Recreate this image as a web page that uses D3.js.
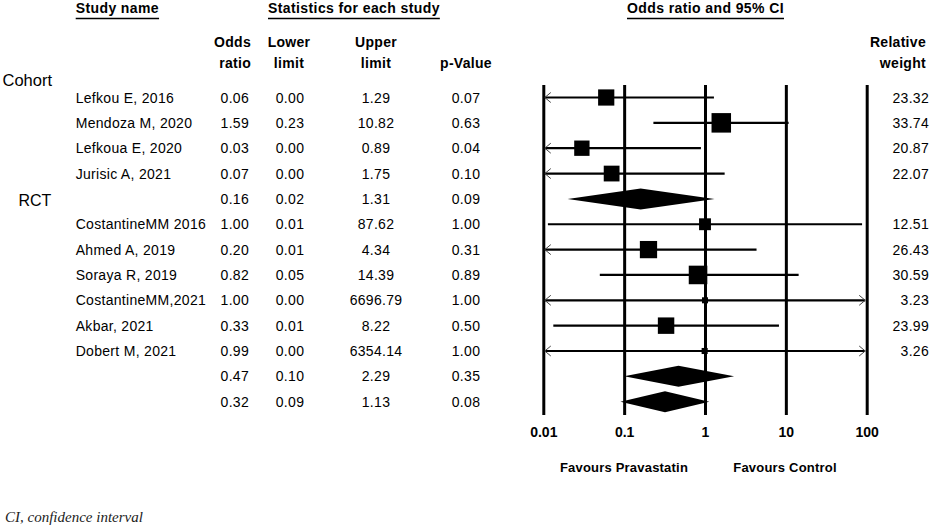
<!DOCTYPE html>
<html>
<head>
<meta charset="utf-8">
<script src="https://cdn.jsdelivr.net/npm/d3@7"></script>
<style>
  body { margin: 0; background: #fff; }
  svg { display: block; font-family: "Liberation Sans", Arial, sans-serif; }
  .bold { font-weight: bold; }
</style>
</head>
<body>
<svg width="941" height="527"></svg>
<script>
// rows of the forest plot, top to bottom ('' = pooled row)
const studies = ['Lefkou E, 2016', 'Mendoza M, 2020', 'Lefkoua E, 2020', 'Jurisic A, 2021', '',
  'CostantineMM 2016', 'Ahmed A, 2019', 'Soraya R, 2019', 'CostantineMM,2021', 'Akbar, 2021', 'Dobert M, 2021', '', ''];
const oddsRatio = [0.06, 1.59, 0.03, 0.07, 0.16, 1.00, 0.20, 0.82, 1.00, 0.33, 0.99, 0.47, 0.32];
const lowerLimit = [0.003, 0.23, 0.001, 0.003, 0.02, 0.0114, 0.0092, 0.05, 0.0001, 0.0133, 0.0002, 0.10, 0.09];
const upperLimit = [1.29, 10.82, 0.89, 1.75, 1.31, 87.62, 4.34, 14.39, 6696.79, 8.22, 6354.14, 2.29, 1.13];
const pValue = [0.07, 0.63, 0.04, 0.10, 0.09, 1.00, 0.31, 0.89, 1.00, 0.50, 1.00, 0.35, 0.08];
const weight = [23.32, 33.74, 20.87, 22.07, null, 12.51, 26.43, 30.59, 3.23, 23.99, 3.26, null, null];
const groupLabels = ['Cohort', 'RCT'];
const axisTicks = [0.01, 0.1, 1, 10, 100];
const favourLabels = ['Favours Pravastatin', 'Favours Control'];
const footnote = 'CI, confidence interval';

const svg = d3.select('svg');

const x = d3.scaleLog().domain([0.01, 100]).range([543.3, 866.7]);
const y = d3.scaleLinear().domain([0, studies.length - 1]).range([97.5, 401.7]);
const box = d3.scaleSqrt().domain([0, 33.74]).range([0, 19.5]);
const fmt = d3.format('.2f');

const rows = studies.map((name, i) => ({
  name, or: oddsRatio[i], lo: lowerLimit[i], hi: upperLimit[i], p: pValue[i], w: weight[i], i
}));

// section headers with underline
const headers = [
  {text: 'Study name', x: 75.7},
  {text: 'Statistics for each study', x: 268},
  {text: 'Odds ratio and 95% CI', x: 627}
];
headers.forEach(h => {
  const t = svg.append('text')
    .attr('class', 'bold')
    .attr('x', h.x)
    .attr('y', 12.5)
    .style('font-size', '14px')
    .style('letter-spacing', '0.4px')
    .text(h.text);
  const bb = t.node().getBBox();
  svg.append('line')
    .attr('x1', bb.x).attr('x2', bb.x + bb.width)
    .attr('y1', 18.5).attr('y2', 18.5)
    .attr('stroke', '#000').attr('stroke-width', 1.5);
});

// column headers
const colHeads = [
  {lines: ['Odds', 'ratio'], x: 251, anchor: 'end'},
  {lines: ['Lower', 'limit'], x: 289, anchor: 'middle'},
  {lines: ['Upper', 'limit'], x: 376, anchor: 'middle'},
  {lines: ['', 'p-Value'], x: 466, anchor: 'middle'},
  {lines: ['Relative', 'weight'], x: 926, anchor: 'end'}
];
colHeads.forEach(c => {
  c.lines.forEach((l, k) => {
    svg.append('text')
      .attr('class', 'bold')
      .attr('x', c.x)
      .attr('y', 46.7 + k * 21.6)
      .attr('text-anchor', c.anchor)
      .style('font-size', '14px')
      .style('letter-spacing', '0.3px')
      .text(l);
  });
});

// group labels
svg.append('text').attr('x', 2.5).attr('y', 85.5)
  .style('font-size', '16.5px').text(groupLabels[0]);
svg.append('text').attr('x', 18.5).attr('y', y(4) + 7.5)
  .style('font-size', '16px').text(groupLabels[1]);

// table text
const rowG = svg.selectAll('.row').data(rows).enter().append('g')
  .attr('class', 'row')
  .attr('transform', d => `translate(0, ${y(d.i) + 5})`)
  .style('font-size', '14px')
  .style('letter-spacing', '0.3px');

rowG.append('text').attr('x', 75.7).text(d => d.name);
rowG.append('text').attr('x', 249).attr('text-anchor', 'end').text(d => fmt(d.or));
rowG.append('text').attr('x', 290).attr('text-anchor', 'middle').text(d => fmt(d.lo));
rowG.append('text').attr('x', 376).attr('text-anchor', 'middle').text(d => fmt(d.hi));
rowG.append('text').attr('x', 466).attr('text-anchor', 'middle').text(d => fmt(d.p));
rowG.append('text').attr('x', 929).attr('text-anchor', 'end').text(d => d.w == null ? '' : fmt(d.w));

// vertical reference lines + tick labels
const axisG = svg.append('g')
  .attr('transform', 'translate(0, 415)')
  .call(d3.axisBottom(x).tickValues(axisTicks).tickFormat(d3.format('~g')).tickSize(-330).tickPadding(12));
axisG.select('.domain').remove();
axisG.selectAll('line').attr('stroke', '#000').attr('stroke-width', 3);
axisG.selectAll('text')
  .attr('fill', '#000')
  .style('font-family', '"Liberation Sans", Arial, sans-serif')
  .style('font-size', '14px')
  .style('font-weight', 'bold');

// favours labels
[{t: favourLabels[0], x: 624}, {t: favourLabels[1], x: 785}].forEach(f => {
  svg.append('text').attr('class', 'bold')
    .attr('x', f.x).attr('y', 471.5)
    .attr('text-anchor', 'middle')
    .style('font-size', '13px')
    .style('letter-spacing', '0.2px')
    .text(f.t);
});

// CI lines, boxes, diamonds
const [xMin, xMax] = x.domain();
const marks = svg.append('g');
rows.forEach(d => {
  const cy = y(d.i);
  if (d.w == null) {
    const h = 10.5;
    marks.append('polygon')
      .attr('points', [[x(d.lo), cy], [x(d.or), cy - h], [x(d.hi), cy], [x(d.or), cy + h]].join(' '))
      .attr('fill', '#000');
    return;
  }
  const x1 = x(Math.max(d.lo, xMin)) + (d.lo < xMin ? 1.5 : 0);
  const x2 = x(Math.min(d.hi, xMax)) - (d.hi > xMax ? 1.5 : 0);
  marks.append('line')
    .attr('x1', x1).attr('x2', x2)
    .attr('y1', cy).attr('y2', cy)
    .attr('stroke', '#000').attr('stroke-width', 2.2);
  if (d.lo < xMin) {
    marks.append('path')
      .attr('d', `M${x1 + 6},${cy - 5}L${x1},${cy}L${x1 + 6},${cy + 5}`)
      .attr('fill', 'none').attr('stroke', '#444').attr('stroke-width', 1);
  }
  if (d.hi > xMax) {
    marks.append('path')
      .attr('d', `M${x2 - 6},${cy - 5}L${x2},${cy}L${x2 - 6},${cy + 5}`)
      .attr('fill', 'none').attr('stroke', '#444').attr('stroke-width', 1);
  }
  const s = box(d.w);
  marks.append('rect')
    .attr('x', x(d.or) - s / 2).attr('y', cy - s / 2)
    .attr('width', s).attr('height', s)
    .attr('fill', '#000');
});

// footnote
svg.append('text')
  .attr('x', 5).attr('y', 522)
  .style('font-family', '"Liberation Serif", "Times New Roman", serif')
  .style('font-style', 'italic')
  .style('font-size', '15px')
  .attr('fill', '#222')
  .text(footnote);
</script>
</body>
</html>
